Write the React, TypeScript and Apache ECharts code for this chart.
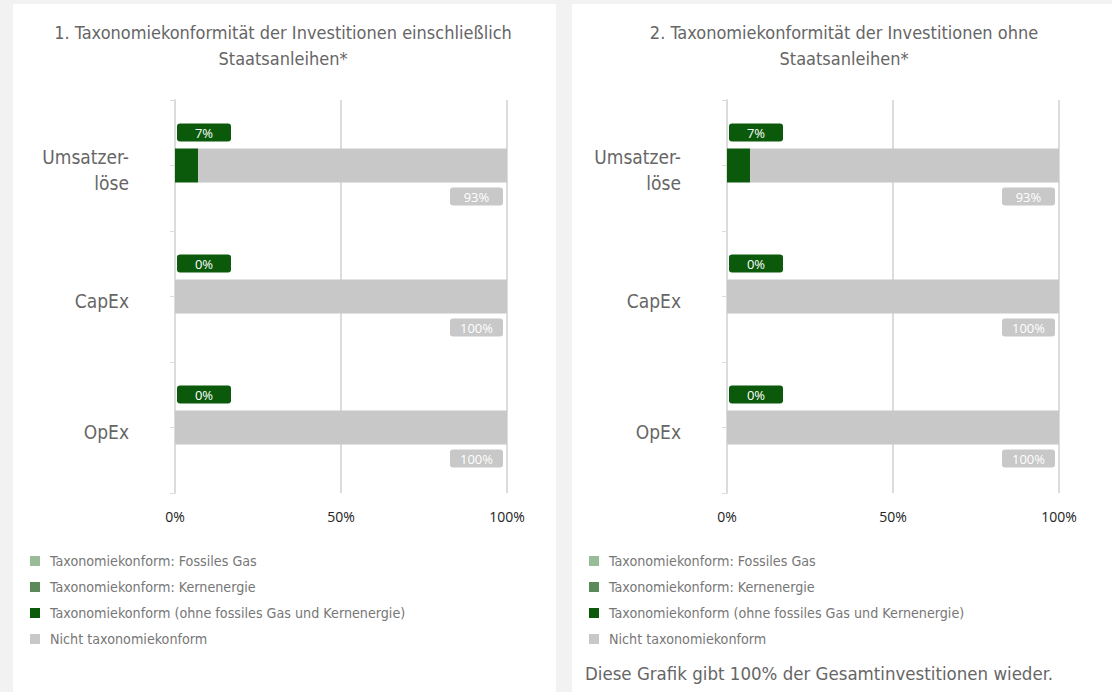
import React, { useEffect, useRef } from "react";
import * as echarts from "echarts";

const categories = ["Umsatzer-\nlöse", "CapEx", "OpEx"];
const seriesNames = [
  "Taxonomiekonform: Fossiles Gas",
  "Taxonomiekonform: Kernenergie",
  "Taxonomiekonform (ohne fossiles Gas und Kernenergie)",
  "Nicht taxonomiekonform",
];
const seriesColors = ["#98bb98", "#5a8a5a", "#0b5a0b", "#c8c8c8"];
const xTicks = [0, 50, 100];

// Chart 1: incl. sovereign bonds
const c1Fossil = [0, 0, 0];
const c1Nuclear = [0, 0, 0];
const c1Aligned = [7, 0, 0];
const c1NotAligned = [93, 100, 100];
// Chart 2: excl. sovereign bonds
const c2Fossil = [0, 0, 0];
const c2Nuclear = [0, 0, 0];
const c2Aligned = [7, 0, 0];
const c2NotAligned = [93, 100, 100];

const title1 = "1. Taxonomiekonformität der Investitionen einschließlich\nStaatsanleihen*";
const title2 = "2. Taxonomiekonformität der Investitionen ohne\nStaatsanleihen*";
const footnote = "Diese Grafik gibt 100% der Gesamtinvestitionen wieder.";

const COND = '"DejaVu Sans Condensed", "Liberation Sans Narrow", Roboto, sans-serif';
const SANS = '"Open Sans", "Noto Sans", sans-serif';

export default function App() {
  const ref = useRef<HTMLDivElement>(null);
  useEffect(() => {
    if (!ref.current) return;
    const chart = echarts.init(ref.current, null, { renderer: "svg" });

    const panels = [
      { grid: { left: 175, width: 332, top: 100, height: 393 }, data: [c1Fossil, c1Nuclear, c1Aligned, c1NotAligned], legendLeft: 25, titleX: 283, title: title1 },
      { grid: { left: 727, width: 332, top: 100, height: 393 }, data: [c2Fossil, c2Nuclear, c2Aligned, c2NotAligned], legendLeft: 584, titleX: 844, title: title2 },
    ];

    const grids: any[] = [];
    const xAxes: any[] = [];
    const yAxes: any[] = [];
    const series: any[] = [];
    const legends: any[] = [];
    const graphics: any[] = [];

    panels.forEach((p, i) => {
      grids.push({ ...p.grid });
      xAxes.push({
        type: "value",
        gridIndex: i,
        min: xTicks[0],
        max: xTicks[xTicks.length - 1],
        interval: xTicks[1] - xTicks[0],
        axisLine: { show: false },
        axisTick: { show: false },
        splitLine: { show: true, lineStyle: { color: "#dcdcdc", width: 2 } },
        axisLabel: { formatter: "{value}%", color: "#222", fontSize: 14, fontFamily: SANS, margin: 16 },
      });
      yAxes.push({
        type: "category",
        gridIndex: i,
        data: categories,
        inverse: true,
        position: "left",
        offset: 0,
        axisLine: { show: true, lineStyle: { color: "#dcdcdc", width: 2 } },
        axisTick: { show: true, alignWithLabel: true, length: 5, lineStyle: { color: "#dcdcdc" } },
        axisLabel: {
          color: "#666",
          fontSize: 19,
          fontFamily: COND,
          margin: 46,
          align: "right",
          formatter: (v: string) => "{s| }\n" + v.split("\n").map((l) => "{a|" + l + "}").join("\n"),
          rich: {
            s: { fontSize: 1, lineHeight: 9, height: 9 },
            a: { color: "#666", fontSize: 19, fontFamily: COND, lineHeight: 26, align: "right" },
          },
        },
      });
      yAxes.push({
        type: "category",
        gridIndex: i,
        data: categories,
        inverse: true,
        position: "left",
        offset: 0,
        axisLine: { show: false },
        axisTick: { show: true, alignWithLabel: false, length: 5, lineStyle: { color: "#dcdcdc" } },
        axisLabel: { show: false },
      });
      seriesNames.forEach((name, k) => {
        const s: any = {
          name,
          type: "bar",
          stack: "total" + i,
          xAxisIndex: i,
          yAxisIndex: i * 2,
          barWidth: 34,
          data: p.data[k],
          itemStyle: { color: seriesColors[k] },
          label: { show: false },
        };
        if (k === 2) {
          s.label = {
            show: true,
            position: [2, -7],
            align: "left",
            verticalAlign: "bottom",
            formatter: "{a|{c}%}",
            rich: {
              a: { width: 54, height: 18, lineHeight: 18, align: "center", backgroundColor: seriesColors[2], borderRadius: 3, color: "#fff", fontSize: 13, fontFamily: SANS },
            },
          };
        }
        if (k === 3) {
          s.label = {
            show: true,
            position: ["100%", "100%"],
            offset: [-4, 5],
            align: "right",
            verticalAlign: "top",
            formatter: "{a|{c}%}",
            rich: {
              a: { width: 53, height: 18, lineHeight: 18, align: "center", backgroundColor: seriesColors[3], borderRadius: 3, color: "#fff", fontSize: 13, fontFamily: SANS },
            },
          };
        }
        series.push(s);
      });
      legends.push({
        left: p.legendLeft,
        top: 549,
        orient: "vertical",
        itemWidth: 10,
        itemHeight: 10,
        itemGap: 12,
        icon: "rect",
        selectedMode: false,
        data: seriesNames,
        textStyle: { color: "#777", fontSize: 14.2, fontFamily: COND, padding: [0, 0, 0, 5] },
      });
      graphics.push({
        type: "text",
        x: p.titleX,
        y: 19,
        style: { text: p.title, align: "center", verticalAlign: "top", fill: "#666", fontSize: 18, fontFamily: COND, lineHeight: 26 },
      });
    });

    graphics.push({
      type: "text",
      x: 585,
      y: 673,
      style: { text: footnote, align: "left", verticalAlign: "middle", fill: "#666", fontSize: 18.5, fontFamily: COND },
    });

    chart.setOption({
      animation: false,
      grid: grids,
      xAxis: xAxes,
      yAxis: yAxes,
      series,
      legend: legends,
      graphic: graphics,
    });
    return () => chart.dispose();
  }, []);

  return (
    <div style={{ position: "fixed", left: 0, top: 0, width: 1112, height: 692, background: "#f2f2f2", overflow: "hidden" }}>
      <div style={{ position: "absolute", left: 13, top: 4, width: 543, height: 700, background: "#fff" }} />
      <div style={{ position: "absolute", left: 572, top: 4, width: 560, height: 700, background: "#fff" }} />
      <div ref={ref} style={{ position: "absolute", left: 0, top: 0, width: 1112, height: 692 }} />
    </div>
  );
}
